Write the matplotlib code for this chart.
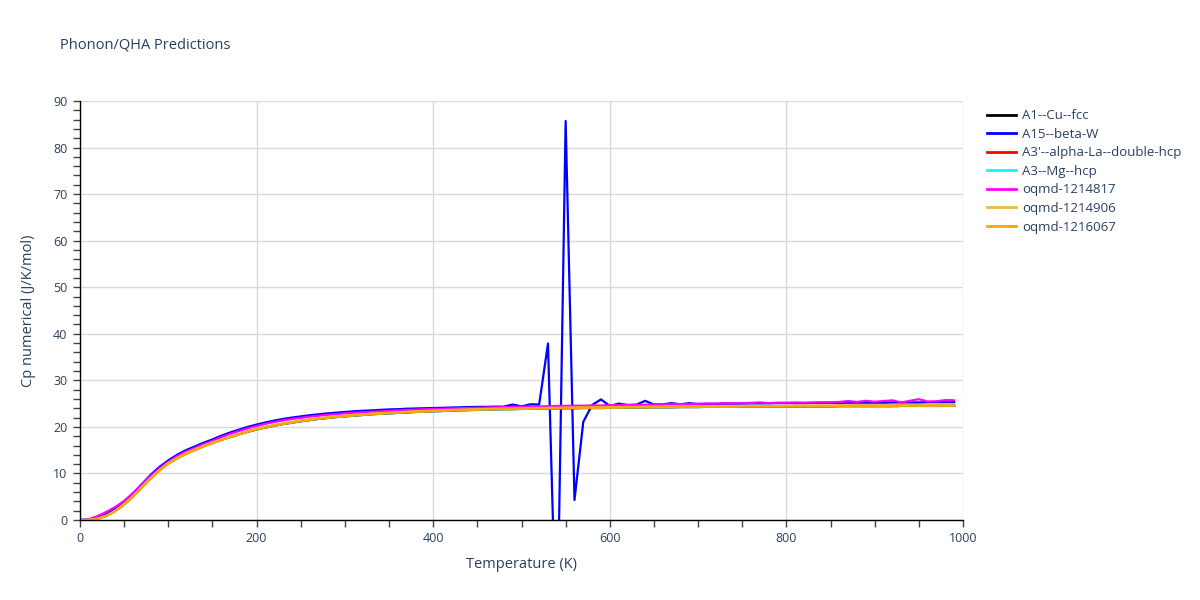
import matplotlib
matplotlib.use("Agg")
import matplotlib.pyplot as plt
from matplotlib.ticker import MultipleLocator

temperature = list(range(0, 1000, 10))

a1_cu_fcc = [
    0.0, 0.02, 0.28, 0.9, 1.95, 3.35, 5.05, 7.05, 8.95, 10.65,
    12.15, 13.25, 14.25, 15.05, 15.85, 16.55, 17.2, 17.8, 18.4, 18.95,
    19.45, 19.85, 20.25, 20.6, 20.9, 21.2, 21.45, 21.7, 21.9, 22.1,
    22.25, 22.4, 22.55, 22.7, 22.8, 22.9, 23.0, 23.1, 23.2, 23.25,
    23.35, 23.4, 23.5, 23.55, 23.6, 23.65, 23.7, 23.75, 23.8, 23.8,
    23.85, 23.9, 23.9, 23.95, 23.95, 24.0, 24.0, 24.05, 24.05, 24.05,
    24.1, 24.1, 24.15, 24.15, 24.15, 24.2, 24.2, 24.2, 24.25, 24.25,
    24.25, 24.3, 24.3, 24.3, 24.3, 24.35, 24.35, 24.35, 24.35, 24.35,
    24.35, 24.4, 24.4, 24.4, 24.4, 24.4, 24.45, 24.45, 24.45, 24.45,
    24.45, 24.45, 24.45, 24.5, 24.5, 24.5, 24.5, 24.5, 24.5, 24.5,
]

a15_beta_w = [
    0.0, 0.1, 0.65, 1.45, 2.5, 3.9, 5.7, 7.7, 9.7, 11.4,
    12.8, 14.0, 15.0, 15.8, 16.6, 17.3, 18.1, 18.8, 19.4, 20.0,
    20.5, 20.95, 21.35, 21.7, 22.0, 22.25, 22.5, 22.7, 22.9, 23.05,
    23.2, 23.35, 23.45, 23.55, 23.65, 23.75, 23.8, 23.9, 23.95, 24.0,
    24.05, 24.1, 24.15, 24.2, 24.25, 24.3, 24.3, 24.35, 24.35, 24.8,
    24.4, 24.85, 24.8, 37.9, -30.0, 85.7, 4.3, 21.1, 24.7, 25.9,
    24.5, 25.0, 24.7, 24.75, 25.6, 24.8, 24.85, 25.1, 24.85, 25.1,
    24.9, 24.95, 24.95, 25.0, 25.0, 25.0, 25.05, 25.05, 25.05, 25.1,
    25.1, 25.1, 25.1, 25.15, 25.15, 25.15, 25.15, 25.2, 25.2, 25.2,
    25.2, 25.2, 25.25, 25.25, 25.25, 25.25, 25.3, 25.3, 25.3, 25.3,
]

a3p_alpha_la = [
    0.0, 0.03, 0.3, 0.95, 2.0, 3.4, 5.1, 7.1, 9.0, 10.7,
    12.2, 13.3, 14.3, 15.1, 15.9, 16.6, 17.25, 17.85, 18.45, 19.05,
    19.55, 19.95, 20.35, 20.7, 21.0, 21.3, 21.55, 21.8, 22.0, 22.2,
    22.35, 22.5, 22.65, 22.8, 22.9, 23.0, 23.1, 23.2, 23.3, 23.35,
    23.45, 23.5, 23.6, 23.65, 23.7, 23.75, 23.8, 23.85, 23.9, 23.9,
    23.95, 24.0, 24.0, 24.05, 24.05, 24.1, 24.1, 24.15, 24.15, 24.15,
    24.2, 24.2, 24.25, 24.25, 24.25, 24.3, 24.3, 24.3, 24.35, 24.35,
    24.35, 24.4, 24.4, 24.4, 24.4, 24.45, 24.45, 24.45, 24.45, 24.45,
    24.45, 24.5, 24.5, 24.5, 24.5, 24.5, 24.55, 24.55, 24.55, 24.55,
    24.55, 24.55, 24.55, 24.6, 24.6, 24.6, 24.6, 24.6, 24.6, 24.6,
]

a3_mg_hcp = [
    0.0, 0.02, 0.26, 0.87, 1.92, 3.3, 5.0, 7.0, 8.9, 10.6,
    12.1, 13.2, 14.2, 15.0, 15.8, 16.5, 17.2, 17.8, 18.4, 19.0,
    19.5, 19.9, 20.3, 20.65, 20.95, 21.25, 21.5, 21.75, 21.95, 22.15,
    22.3, 22.45, 22.6, 22.75, 22.85, 22.95, 23.05, 23.15, 23.25, 23.3,
    23.4, 23.45, 23.55, 23.6, 23.65, 23.7, 23.75, 23.8, 23.85, 23.85,
    23.9, 23.95, 23.95, 24.0, 24.0, 24.05, 24.05, 24.1, 24.1, 24.1,
    24.15, 24.15, 24.2, 24.2, 24.2, 24.25, 24.25, 24.25, 24.3, 24.3,
    24.3, 24.35, 24.35, 24.35, 24.35, 24.4, 24.4, 24.4, 24.4, 24.4,
    24.4, 24.45, 24.45, 24.45, 24.45, 24.45, 24.5, 24.5, 24.5, 24.5,
    24.5, 24.5, 24.5, 24.55, 24.55, 24.55, 24.55, 24.55, 24.55, 24.55,
]

oqmd_1214817 = [
    0.0, 0.15, 0.85, 1.75, 2.8, 4.1, 5.8, 7.6, 9.5, 11.1,
    12.5, 13.7, 14.7, 15.5, 16.3, 17.0, 17.8, 18.5, 19.1, 19.7,
    20.2, 20.65, 21.05, 21.4, 21.7, 21.95, 22.2, 22.4, 22.6, 22.75,
    22.9, 23.05, 23.15, 23.25, 23.35, 23.45, 23.55, 23.65, 23.7, 23.8,
    23.85, 23.9, 23.95, 24.0, 24.05, 24.1, 24.15, 24.2, 24.25, 24.3,
    24.35, 24.4, 24.4, 24.45, 24.5, 24.5, 24.55, 24.55, 24.6, 24.6,
    24.65, 24.7, 24.7, 24.75, 24.75, 24.8, 24.85, 24.85, 24.9, 24.9,
    24.95, 25.0, 25.0, 25.1, 25.05, 25.1, 25.15, 25.25, 25.1, 25.2,
    25.2, 25.25, 25.2, 25.25, 25.3, 25.3, 25.35, 25.55, 25.35, 25.6,
    25.4, 25.55, 25.7, 25.25, 25.6, 25.95, 25.45, 25.5, 25.75, 25.7,
]

oqmd_1214906 = [
    0.0, 0.03, 0.3, 0.95, 2.0, 3.45, 5.15, 7.15, 9.05, 10.75,
    12.25, 13.35, 14.35, 15.15, 15.95, 16.65, 17.3, 17.9, 18.5, 19.1,
    19.6, 20.0, 20.4, 20.75, 21.05, 21.35, 21.6, 21.85, 22.05, 22.25,
    22.4, 22.55, 22.7, 22.85, 22.95, 23.05, 23.15, 23.25, 23.35, 23.4,
    23.5, 23.55, 23.65, 23.7, 23.75, 23.8, 23.85, 23.9, 23.95, 23.95,
    24.0, 24.05, 24.05, 24.1, 24.1, 24.15, 24.15, 24.2, 24.2, 24.2,
    24.25, 24.25, 24.3, 24.3, 24.3, 24.35, 24.35, 24.35, 24.4, 24.4,
    24.4, 24.45, 24.45, 24.45, 24.45, 24.5, 24.5, 24.5, 24.5, 24.5,
    24.5, 24.55, 24.55, 24.55, 24.55, 24.55, 24.6, 24.6, 24.6, 24.6,
    24.6, 24.6, 24.6, 24.65, 24.65, 24.65, 24.65, 24.65, 24.65, 24.65,
]

oqmd_1216067 = [
    0.0, 0.02, 0.25, 0.85, 1.9, 3.3, 5.0, 7.0, 8.9, 10.6,
    12.1, 13.2, 14.2, 15.0, 15.8, 16.5, 17.2, 17.8, 18.4, 19.0,
    19.5, 19.9, 20.3, 20.65, 20.95, 21.25, 21.5, 21.75, 21.95, 22.15,
    22.3, 22.45, 22.6, 22.75, 22.85, 22.95, 23.05, 23.15, 23.25, 23.3,
    23.4, 23.45, 23.55, 23.6, 23.65, 23.7, 23.75, 23.8, 23.85, 23.85,
    23.9, 23.95, 23.95, 24.0, 24.0, 24.05, 24.05, 24.1, 24.1, 24.1,
    24.15, 24.15, 24.2, 24.2, 24.2, 24.25, 24.25, 24.25, 24.3, 24.3,
    24.3, 24.35, 24.35, 24.35, 24.35, 24.4, 24.4, 24.4, 24.4, 24.4,
    24.4, 24.45, 24.45, 24.45, 24.45, 24.45, 24.5, 24.5, 24.5, 24.5,
    24.5, 24.5, 24.5, 24.55, 24.55, 24.55, 24.55, 24.55, 24.55, 24.55,
]

series_names = ["A1--Cu--fcc", "A15--beta-W", "A3'--alpha-La--double-hcp",
                "A3--Mg--hcp", "oqmd-1214817", "oqmd-1214906", "oqmd-1216067"]
series_values = [a1_cu_fcc, a15_beta_w, a3p_alpha_la, a3_mg_hcp,
                 oqmd_1214817, oqmd_1214906, oqmd_1216067]
series_colors = ["black", "blue", "red", "cyan", "magenta", "#e8be3a", "orange"]

title_text = "Phonon/QHA Predictions"
x_label = "Temperature (K)"
y_label = "Cp numerical (J/K/mol)"

text_color = "#2a3f5f"
plt.rcParams["font.family"] = ["Open Sans", "DejaVu Sans"]

fig = plt.figure(figsize=(12, 6), dpi=100)
ax = fig.add_axes([80 / 1200, 80 / 600, 883 / 1200, 419 / 600])

for name, vals, col in zip(series_names, series_values, series_colors):
    ax.plot(temperature, vals, color=col, lw=1.6, label=name, solid_joinstyle="round")

ax.set_xlim(0, 1000)
ax.set_ylim(0, 90)
ax.xaxis.set_major_locator(MultipleLocator(200))
ax.xaxis.set_minor_locator(MultipleLocator(50))
ax.yaxis.set_major_locator(MultipleLocator(10))
ax.yaxis.set_minor_locator(MultipleLocator(2))
ax.grid(True, which="major", color="#d9d9d9", lw=1)
ax.set_axisbelow(True)
for s in ["top", "right"]:
    ax.spines[s].set_visible(False)
for s in ["left", "bottom"]:
    ax.spines[s].set_color("black")
    ax.spines[s].set_linewidth(1)
ax.tick_params(which="both", direction="out", length=5, width=1, color="#444444",
               labelsize=9, labelcolor=text_color, pad=4)

ax.set_xlabel(x_label, fontsize=10.5, color=text_color, labelpad=8)
ax.set_ylabel(y_label, fontsize=10.5, color=text_color, labelpad=12)
fig.text(60 / 1200, 1 - 45 / 600, title_text, fontsize=10.5, color=text_color,
         va="center", ha="left")

leg = fig.legend(loc="upper left", bbox_to_anchor=(982 / 1200, 1 - 104 / 600),
                 frameon=False, fontsize=9.5, handlelength=2.2, handletextpad=0.45,
                 labelspacing=0.42, borderaxespad=0)
for t in leg.get_texts():
    t.set_color(text_color)
for h in leg.get_lines():
    h.set_linewidth(2)

fig.savefig("out.png", dpi=100, facecolor="white")
